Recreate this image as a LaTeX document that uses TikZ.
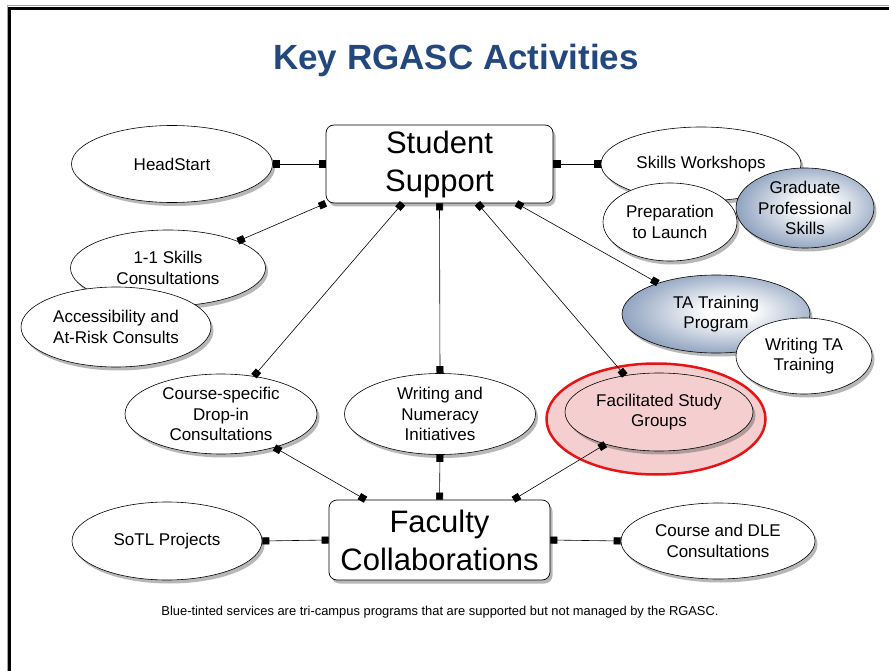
\documentclass[tikz,border=0pt]{standalone}
\usepackage{fontspec}
\setmainfont{Liberation Sans}
\usetikzlibrary{shapes.geometric,arrows.meta,shadows}
\definecolor{titleblue}{RGB}{35,72,125}
\definecolor{steel}{RGB}{92,120,162}
\definecolor{fsgpink}{RGB}{245,207,207}
\definecolor{fsgred}{RGB}{230,20,20}
\pgfdeclareradialshading{softblue}{\pgfpoint{4bp}{2bp}}{color(0bp)=(white); color(6bp)=(white); color(37bp)=(steel); color(60bp)=(steel)}
\begin{document}
\begin{tikzpicture}[x=1pt,y=-1pt,
  shd/.style={drop shadow={shadow xshift=2.5pt,shadow yshift=-3.5pt,opacity=0.4,fill=black!70}},
  oval/.style={ellipse,draw=black,line width=0.6pt,fill=white,inner sep=0pt,align=center,
    font=\fontsize{17}{20.5}\selectfont,shd},
  blueoval/.style={oval,fill=none,shading=softblue},
  hub/.style={rectangle,rounded corners=8pt,draw=black,line width=0.7pt,fill=white,align=center,
    inner sep=0pt,font=\fontsize{31}{38}\selectfont,shd},
  con/.style={draw=black,line width=0.6pt,{Square[length=7pt,width=7pt]}-{Square[length=7pt,width=7pt]}}
]
\useasboundingbox (0,0) rectangle (889,671);
\fill[white] (0,0) rectangle (889,671);
% frame
\draw[black!35,line width=1pt] (7,671) -- (7,6) -- (889,6);
\draw[black,line width=3pt] (9.5,671) -- (9.5,8.5) -- (889,8.5);

\node[font=\fontsize{35}{40}\selectfont\bfseries,text=titleblue] (title) at (456,60) {Key RGASC Activities};

% hubs
\node[hub,minimum width=227pt,minimum height=78pt] (ss) at (439.5,164) {Student\\Support};
\node[hub,minimum width=221pt,minimum height=80pt] (fc) at (439.5,540) {Faculty\\Collaborations};

% left column
\node[oval,minimum width=201pt,minimum height=77pt] (hs) at (172,164) {HeadStart};
\node[oval,minimum width=195pt,minimum height=76pt] (one) at (168,268) {1-1 Skills\\Consultations};
\node[oval,minimum width=190pt,minimum height=80pt] (acc) at (116,327) {Accessibility and\\At-Risk Consults};
\node[oval,minimum width=192pt,minimum height=80pt] (cs) at (221,414) {Course-specific\\Drop-in\\Consultations};
\node[oval,minimum width=191pt,minimum height=81pt] (wn) at (440,414) {Writing and\\Numeracy\\Initiatives};
\node[oval,minimum width=190pt,minimum height=78pt] (sotl) at (167,541) {SoTL Projects};
\node[oval,minimum width=194pt,minimum height=76pt] (dle) at (718,541) {Course and DLE\\Consultations};

% right column
\node[oval,minimum width=200pt,minimum height=74pt] (sw) at (701,164) {};
\node[font=\fontsize{17}{20.5}\selectfont] (swt) at (701,164) {Skills Workshops};
\node[oval,minimum width=134pt,minimum height=78pt] (prep) at (670,222) {Preparation\\to Launch};
\node[blueoval,minimum width=138pt,minimum height=80pt] (gps) at (805,208) {Graduate\\Professional\\Skills};
\node[blueoval,minimum width=188pt,minimum height=78pt] (ta) at (716,314) {TA Training\\Program};
\node[oval,minimum width=136pt,minimum height=76pt] (wta) at (804,356) {Writing TA\\Training};

% facilitated study groups
\node[ellipse,draw=fsgred,line width=2.5pt,fill=fsgpink,minimum width=219pt,minimum height=111pt] (fsgo) at (656,419) {};
\node[oval,fill=fsgpink,minimum width=188pt,minimum height=78pt] (fsg) at (659,412) {Facilitated Study\\Groups};

% connectors
\draw[con] (hs.east) -- (ss.west);
\draw[con] (ss.east) -- (sw.west);
\draw[con] (ss.south west) -- (one.21);
\draw[con] ([xshift=-37pt]ss.south) -- (cs.49);
\draw[con] (ss.south) -- (wn.north);
\draw[con] ([xshift=38pt]ss.south) -- (fsg.133);
\draw[con] ([xshift=77pt]ss.south) -- (ta.152);
\draw[con] (cs.-32) -- ([xshift=-74pt]fc.north);
\draw[con] (wn.south) -- (fc.north);
\draw[con] (fsg.211) -- ([xshift=74pt]fc.north);
\draw[con] (sotl.east) -- (fc.west);
\draw[con] (fc.east) -- (dle.west);

\node[font=\fontsize{12.9}{15}\selectfont] (cap) at (440,612) {Blue-tinted services are tri-campus programs that are supported but not managed by the RGASC.};
\end{tikzpicture}
\end{document}
